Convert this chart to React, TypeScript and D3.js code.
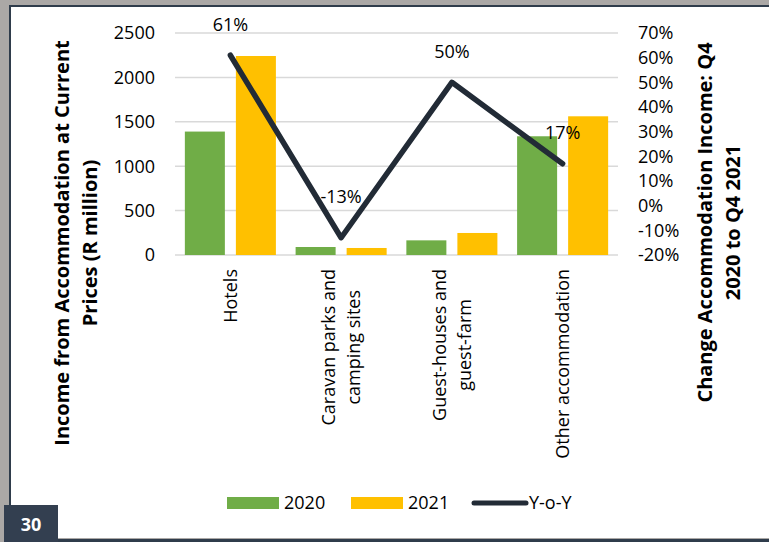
import React, { useEffect, useRef } from "react";
import * as d3 from "d3";

const categories = ["Hotels", "Caravan parks and\ncamping sites", "Guest-houses and\nguest-farm", "Other accommodation"];
const series2020 = [1390, 90, 165, 1337];
const series2021 = [2241, 79, 248, 1562];
const yoy = [0.61, -0.13, 0.5, 0.17];
const yoyLabels = ["61%", "-13%", "50%", "17%"];
const leftTicks = [0, 500, 1000, 1500, 2000, 2500];
const rightTicks = [-0.2, -0.1, 0, 0.1, 0.2, 0.3, 0.4, 0.5, 0.6, 0.7];
const seriesNames = ["2020", "2021", "Y-o-Y"];
const leftTitle = ["Income from Accommodation at Current", "Prices (R million)"];
const rightTitle = ["Change Accommodation Income: Q4", "2020 to Q4 2021"];
const pageNumber = "30";

const W = 769, H = 542;
const FONT = "'Open Sans', sans-serif";
const GREEN = "#70ad47", YELLOW = "#ffc000", NAVY = "#222b36";

export default function App() {
  const ref = useRef<SVGSVGElement>(null);
  useEffect(() => {
    const svg = d3.select(ref.current);
    svg.selectAll("*").remove();

    // frame
    svg.append("rect").attr("width", W).attr("height", H).attr("fill", "#aba8a6");
    svg.append("rect").attr("x", 11).attr("y", 7).attr("width", W - 11).attr("height", 531).attr("fill", "#ffffff");
    svg.append("rect").attr("x", 9).attr("y", 5).attr("width", W - 9).attr("height", 2).attr("fill", "#2f3c4b");
    svg.append("rect").attr("x", 9).attr("y", 5).attr("width", 2).attr("height", 500).attr("fill", "#2f3c4b");
    svg.append("rect").attr("x", 58).attr("y", 539).attr("width", W - 58).attr("height", 3).attr("fill", "#2f3c4b");

    const x = d3.scaleBand<string>().domain(categories).range([175, 618]);
    const bw = x.bandwidth();
    const pad = bw * 0.089;
    const x1 = d3.scaleBand<string>().domain(["2020", "2021"]).range([pad, bw - pad]).paddingInner(0.2157);
    const yL = d3.scaleLinear().domain([0, 2500]).range([255, 33]);
    const yR = d3.scaleLinear().domain([-0.2, 0.7]).range([255, 33]);

    // gridlines
    svg.append("g").selectAll("line").data(leftTicks).join("line")
      .attr("x1", 175).attr("x2", 618)
      .attr("y1", d => yL(d)).attr("y2", d => yL(d))
      .attr("stroke", "#d9d9d9").attr("stroke-width", 1.5);

    // left ticks
    svg.append("g").selectAll("text").data(leftTicks).join("text")
      .attr("x", 155).attr("y", d => yL(d)).attr("dy", "0.35em")
      .attr("text-anchor", "end").attr("font-family", FONT).attr("font-size", 18).attr("fill", "#000")
      .text(d => String(d));

    // right ticks
    svg.append("g").selectAll("text").data(rightTicks).join("text")
      .attr("x", 638).attr("y", d => yR(d)).attr("dy", "0.35em")
      .attr("text-anchor", "start").attr("font-family", FONT).attr("font-size", 18).attr("fill", "#000")
      .text(d => `${Math.round(d * 100)}%`);

    // bars
    const bars = svg.append("g");
    categories.forEach((c, i) => {
      const g = bars.append("g").attr("transform", `translate(${x(c)},0)`);
      g.append("rect").attr("x", x1("2020")!).attr("width", x1.bandwidth())
        .attr("y", yL(series2020[i])).attr("height", yL(0) - yL(series2020[i])).attr("fill", GREEN);
      g.append("rect").attr("x", x1("2021")!).attr("width", x1.bandwidth())
        .attr("y", yL(series2021[i])).attr("height", yL(0) - yL(series2021[i])).attr("fill", YELLOW);
    });

    // line
    const line = d3.line<number>()
      .x((_, i) => x(categories[i])! + bw / 2)
      .y(d => yR(d));
    svg.append("path").attr("d", line(yoy)!).attr("fill", "none")
      .attr("stroke", NAVY).attr("stroke-width", 5.5).attr("stroke-linejoin", "round").attr("stroke-linecap", "round");

    // data labels
    svg.append("g").selectAll("text").data(yoy).join("text")
      .attr("x", (_, i) => x(categories[i])! + bw / 2)
      .attr("y", (d, i) => yR(d) - (i === 1 ? 41 : 31)).attr("dy", "0.35em")
      .attr("text-anchor", "middle").attr("font-family", FONT).attr("font-size", 18).attr("fill", "#000")
      .text((_, i) => yoyLabels[i]);

    // category labels
    categories.forEach(c => {
      const lines = c.split("\n");
      const g = svg.append("g").attr("transform", `translate(${x(c)! + bw / 2},269) rotate(-90)`);
      const texts = lines.map((l, j) =>
        g.append("text").attr("y", (j - (lines.length - 1) / 2) * 25).attr("dy", "0.35em")
          .attr("font-family", FONT).attr("font-size", 18).attr("fill", "#000").attr("text-anchor", "middle").text(l)
      );
      const L = Math.max(...texts.map(t => (t.node() as SVGTextElement).getComputedTextLength()));
      texts.forEach(t => t.attr("x", -L / 2));
    });

    // axis titles
    const title = (lines: string[], cx: number, cy: number) => {
      const g = svg.append("g").attr("transform", `translate(${cx},${cy}) rotate(-90)`);
      lines.forEach((l, j) => {
        g.append("text").attr("x", 0).attr("y", (j - (lines.length - 1) / 2) * 28).attr("dy", "0.35em")
          .attr("text-anchor", "middle").attr("font-family", FONT).attr("font-size", 20).attr("font-weight", "bold")
          .attr("fill", "#000").text(l);
      });
    };
    title(leftTitle, 76, 243);
    title(rightTitle, 719, 222.5);

    // legend
    const lg = svg.append("g");
    lg.append("rect").attr("x", 227).attr("y", 497).attr("width", 52).attr("height", 12).attr("fill", GREEN);
    lg.append("text").attr("x", 284).attr("y", 503).attr("dy", "0.35em").attr("font-family", FONT).attr("font-size", 18).text(seriesNames[0]);
    lg.append("rect").attr("x", 351).attr("y", 497).attr("width", 52).attr("height", 12).attr("fill", YELLOW);
    lg.append("text").attr("x", 408).attr("y", 503).attr("dy", "0.35em").attr("font-family", FONT).attr("font-size", 18).text(seriesNames[1]);
    lg.append("line").attr("x1", 474).attr("x2", 526).attr("y1", 503).attr("y2", 503)
      .attr("stroke", NAVY).attr("stroke-width", 5).attr("stroke-linecap", "round");
    lg.append("text").attr("x", 529).attr("y", 503).attr("dy", "0.35em").attr("font-family", FONT).attr("font-size", 18).text(seriesNames[2]);

    // page number box
    svg.append("rect").attr("x", 4).attr("y", 505).attr("width", 54).attr("height", 37).attr("fill", "#333f50");
    svg.append("text").attr("x", 31).attr("y", 524.5).attr("dy", "0.35em").attr("text-anchor", "middle")
      .attr("font-family", FONT).attr("font-size", 18).attr("font-weight", "bold").attr("fill", "#ffffff").text(pageNumber);
  }, []);

  return (
    <svg ref={ref} width={W} height={H} style={{ position: "absolute", left: 0, top: 0, display: "block" }} />
  );
}
